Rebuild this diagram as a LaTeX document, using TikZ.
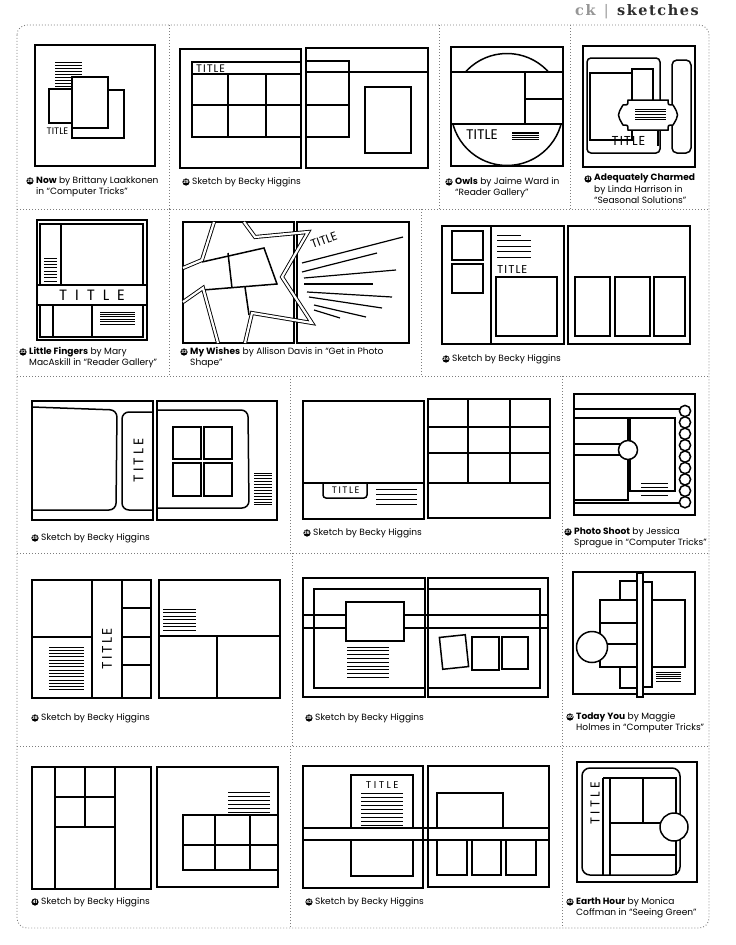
\documentclass[tikz,border=0pt]{standalone}
\usepackage{fontspec}
\newfontfamily\capfont{Poppins}
\newfontfamily\ttlfont{Poppins}
\newfontfamily\hdrfont{DejaVu Serif}
\usetikzlibrary{calc}
\definecolor{sepgray}{RGB}{125,125,125}
\definecolor{hdrgray}{RGB}{150,150,150}
\definecolor{hdrdark}{RGB}{45,45,45}
\newcommand\sptitle[2]{{\addfontfeatures{LetterSpace=#1}TITLE}\kern-#2}

\begin{document}
\begin{tikzpicture}[
    x=1bp, y=-1bp,
    pg/.style={draw, line width=1.7bp},
    sk/.style={draw, line width=1.5bp},
    jl/.style={line width=1bp},
    sep/.style={draw=sepgray, line width=0.9bp, dash pattern=on 0.9bp off 2.1bp},
    star/.style={line width=0.9bp, double, double distance=2.2bp, line join=miter},
    numdot/.style={circle, fill=black, inner sep=0pt, minimum size=7.2bp, text=white, font=\capfont\bfseries\fontsize{4.5}{4.5}\selectfont},
    caption/.style={anchor=north west, align=left, inner sep=0pt, font=\capfont\fontsize{9.1}{11.4}\selectfont},
    ttl/.style={inner sep=0pt, font=\ttlfont\fontsize{#1}{#1}\selectfont}
]
  \useasboundingbox (0,0) rectangle (736,945);

  \node[anchor=base east, inner sep=0pt, font=\hdrfont\bfseries\fontsize{14.5}{14.5}\selectfont\addfontfeatures{LetterSpace=11}] (hdr) at (699,15.5) {\textcolor{hdrgray}{ck \textmd{|}} \textcolor{hdrdark}{sketches}};

  % frame and separators
  \draw[sep, rounded corners=10] (17,25) rectangle (709,928);
  \foreach \y in {209,376,553,746} \draw[sep] (17,\y) -- (709,\y);
  \foreach \x in {169,439,570} \draw[sep] (\x,25) -- (\x,209);
  \foreach \x in {169,421} \draw[sep] (\x,209) -- (\x,376);
  \draw[sep] (290,376) -- (290,553);
  \draw[sep] (292,553) -- (292,746);
  \draw[sep] (290,746) -- (290,928);
  \draw[sep] (562,376) -- (562,928);

  % 28
  \draw[pg] (35,45) rectangle (155,166);
  \foreach \y in {62,65,...,86} \draw[jl] (55,\y) -- (82,\y);
  \draw[sk, fill=white] (72,90) rectangle (124,138);
  \draw[sk, fill=white] (49,89) rectangle (80,123);
  \draw[sk, fill=white] (72,77) rectangle (108,128);
  \node[ttl=9.5] (t28) at (57.5,131) {TITLE};
  \node[numdot] (n28) at (30,181) {28};
  \node[caption] (c28) at (36,176) {\textbf{Now} by Brittany Laakkonen\\in “Computer Tricks”};

  % 29
  \draw[pg] (180,49) rectangle (301,168);
  \draw[pg] (306,48) rectangle (428,168);
  \draw[sk] (192,62) rectangle (301,74);
  \node[ttl=11, anchor=west] (t29) at (196,68.5) {\sptitle{9}{1bp}};
  \draw[sk] (192,74) rectangle (301,137);
  \draw[sk] (228,74) -- (228,137);
  \draw[sk] (266,74) -- (266,137);
  \draw[sk] (192,105) -- (301,105);
  \draw[sk] (306,61) rectangle (349,137);
  \draw[sk] (306,72) -- (428,72);
  \draw[sk] (306,105) -- (349,105);
  \draw[sk] (365,87) rectangle (411,153);
  \node[numdot] (n29) at (186,182) {29};
  \node[caption] (c29) at (192,177) {Sketch by Becky Higgins};

  % 30
  \draw[pg] (451,47) rectangle (563,166);
  \draw[sk] (507,109.5) circle (56);
  \draw[sk, fill=white] (451,72) rectangle (563,124);
  \draw[sk] (525,72) -- (525,124);
  \draw[sk] (525,99) -- (563,99);
  \node[ttl=14] (t30) at (482,135) {TITLE};
  \foreach \y in {132,133.8,...,140} \draw[line width=0.9bp] (512,\y) -- (539,\y);
  \node[numdot] (n30) at (449,182) {30};
  \node[caption] (c30) at (455,177) {\textbf{Owls} by Jaime Ward in\\“Reader Gallery”};

  % 31
  \draw[pg] (583,46) rectangle (695,167);
  \draw[sk, rounded corners=4] (587,58) rectangle (660,153);
  \draw[sk, rounded corners=5] (672,60) rectangle (691,153);
  \draw[sk, fill=white] (590,73) rectangle (632,140);
  \draw[sk, fill=white] (632,69) rectangle (653,107);
  \draw[sk] (658,128) -- (658,146);
  \draw[sk, fill=white] (628,100) -- (668,100) .. controls (668,105) .. (673,105) .. controls (679,115) .. (673,125) .. controls (668,125) .. (668,130) -- (628,130) .. controls (628,125) .. (623,125) .. controls (617,115) .. (623,105) .. controls (628,105) .. (628,100) -- cycle;
  \foreach \y in {109,111.7,...,121} \draw[line width=0.9bp] (635,\y) -- (666,\y);
  \node[ttl=13] (t31) at (628,141) {\sptitle{8}{1bp}};
  \node[numdot] (n31) at (588,179) {31};
  \node[caption] (c31) at (594,174) {\textbf{Adequately Charmed}\\by Linda Harrison in\\“Seasonal Solutions”};

  % 32
  \draw[pg] (37,220) rectangle (147,340);
  \draw[sk] (40,224) rectangle (143,337);
  \draw[sk] (61,224) -- (61,285);
  \foreach \y in {258,261.3,...,282} \draw[jl] (44,\y) -- (57,\y);
  \draw[sk, fill=white] (37,285) rectangle (147,305);
  \node[ttl=15] (t32) at (88,295) {\sptitle{53}{8bp}};
  \draw[sk] (53,305) -- (53,337);
  \draw[sk] (92,305) -- (92,337);
  \foreach \y in {312,314.4,...,325} \draw[line width=0.9bp] (100,\y) -- (135,\y);
  \node[numdot] (n32) at (23,352) {32};
  \node[caption] (c32) at (29,347) {\textbf{Little Fingers} by Mary\\MacAskill in “Reader Gallery”};

  % 33
  \draw[pg] (183,222) rectangle (294,343);
  \draw[pg] (297,222) rectangle (409,343);
  \draw[sk] (202,262) -- (264,248) -- (277,284) -- (203,290);
  \draw[sk] (228,253) -- (232,288);
  \draw[sk] (245,287) -- (249,315);
  \draw[star] (214,222) -- (202,260) -- (183,268);
  \draw[star] (183,302) -- (203,288) -- (218,343);
  \draw[star] (245,343) -- (252,313) -- (312,323) -- (282,277) -- (308,232) -- (255,237) -- (244,222);
  \node[ttl=12, rotate=20] (t33) at (324,240) {TITLE};
  \foreach \a/\b/\c/\d in {302/263/403/237, 302/272/377/253, 304/278/396/270, 304/284/373/284, 307/292/392/297, 309/297/382/308, 314/305/366/317, 314/310/340/318}
    \draw[line width=1.2bp] (\a,\b) -- (\c,\d);
  \node[numdot] (n33) at (184,352) {33};
  \node[caption] (c33) at (190,347) {\textbf{My Wishes} by Allison Davis in “Get in Photo\\Shape”};

  % 34
  \draw[pg] (442,226) rectangle (564,344);
  \draw[pg] (568,226) rectangle (690,344);
  \draw[sk] (491,226) -- (491,344);
  \draw[sk] (452,231) rectangle (483,260);
  \draw[sk] (452,264) rectangle (483,293);
  \draw[jl] (497,235) -- (521,235);
  \foreach \y in {240.5,246,...,258} \draw[jl] (497,\y) -- (531,\y);
  \node[ttl=11.5, anchor=west] (t34) at (497,269) {\sptitle{9}{1bp}};
  \draw[sk] (496,277) rectangle (557,336);
  \draw[sk] (575,277) rectangle (610,336);
  \draw[sk] (615,277) rectangle (650,336);
  \draw[sk] (654,277) rectangle (685,336);
  \node[numdot] (n34) at (446,359) {34};
  \node[caption] (c34) at (452,354) {Sketch by Becky Higgins};

  % 35
  \draw[pg] (32,401) rectangle (153,520);
  \draw[pg] (157,401) rectangle (277,520);
  \draw[sk, rounded corners=7] (32,407) -- (117,410) -- (116,510) -- (32,510);
  \draw[sk, rounded corners=7] (153,412) -- (122,412) -- (122,510) -- (153,510);
  \node[ttl=14, rotate=90] (t35) at (138.5,462) {\sptitle{21}{3bp}};
  \draw[sk, rounded corners=7] (157,410) -- (248,410) -- (249,508) -- (157,508);
  \draw[sk] (173,427) rectangle (201,459);
  \draw[sk] (204,427) rectangle (232,459);
  \draw[sk] (173,463) rectangle (201,496);
  \draw[sk] (204,463) rectangle (232,496);
  \foreach \y in {473,475.9,...,506} \draw[line width=0.9bp] (254,\y) -- (272,\y);
  \node[numdot] (n35) at (35,538) {35};
  \node[caption] (c35) at (41,533) {Sketch by Becky Higgins};

  % 36
  \draw[pg] (303,401) rectangle (424,519);
  \draw[pg] (428,399) rectangle (550,518);
  \draw[sk] (303,483) -- (424,483);
  \draw[sk, rounded corners=3] (323,483) -- (323,498) -- (367,498) -- (367,483);
  \node[ttl=9.5] (t36) at (345,490.5) {\sptitle{16}{1.5bp}};
  \foreach \y in {489,494.3,...,505} \draw[jl] (376,\y) -- (417,\y);
  \draw[sk] (428,427) -- (550,427);
  \draw[sk] (428,453) -- (550,453);
  \draw[sk] (428,483) -- (550,483);
  \draw[sk] (468,399) -- (468,483);
  \draw[sk] (510,399) -- (510,483);
  \node[numdot] (n36) at (307,533) {36};
  \node[caption] (c36) at (313,528) {Sketch by Becky Higgins};

  % 37
  \draw[pg] (574,394) rectangle (695,515);
  \draw[sk] (574,409) -- (680,409);
  \draw[sk] (574,503) -- (680,503);
  \draw[sk] (574,418) -- (628,418) -- (628,500) -- (574,500);
  \draw[sk] (574,444) -- (620,444);
  \draw[sk] (574,455) -- (620,455);
  \draw[sk] (630,418) rectangle (675,491);
  \foreach \y in {483,487,...,497} \draw[jl] (641,\y) -- (668,\y);
  \draw[sk, fill=white] (628,450) circle (9.5);
  \foreach \i in {0,...,8} \draw[sk, fill=white] (685,411+11.4*\i) circle (5.6);
  \node[numdot] (n37) at (568,532) {37};
  \node[caption] (c37) at (574,527) {\textbf{Photo Shoot} by Jessica\\Sprague in “Computer Tricks”};

  % 38
  \draw[pg] (32,580) rectangle (151,698);
  \draw[pg] (159,580) rectangle (280,698);
  \draw[sk] (92,580) -- (92,698);
  \draw[sk] (122,580) -- (122,698);
  \draw[sk] (32,637) -- (92,637);
  \draw[sk] (122,608) -- (151,608);
  \draw[sk] (122,637) -- (151,637);
  \draw[sk] (122,665) -- (151,665);
  \node[ttl=14, rotate=90] (t38) at (107,650) {\sptitle{18}{2.5bp}};
  \foreach \y in {647,650.3,...,691} \draw[jl] (49,\y) -- (84,\y);
  \draw[sk] (159,636) -- (280,636);
  \draw[sk] (217,636) -- (217,698);
  \foreach \y in {609,612.5,...,631} \draw[jl] (163,\y) -- (196,\y);
  \node[numdot] (n38) at (35,718) {38};
  \node[caption] (c38) at (41,713) {Sketch by Becky Higgins};

  % 39
  \draw[pg] (303,578) rectangle (425,697);
  \draw[pg] (428,578) rectangle (548,697);
  \draw[sk] (425,589) -- (314,589) -- (314,688) -- (425,688);
  \draw[sk] (428,589) -- (540,589) -- (540,688) -- (428,688);
  \draw[sk] (303,615) -- (548,615);
  \draw[sk] (303,628) -- (548,628);
  \draw[sk, fill=white] (346,602) rectangle (404,641);
  \foreach \y in {647,650.8,...,678} \draw[jl] (347,\y) -- (389,\y);
  \draw[sk, rotate around={6:(454,652)}] (441,636) rectangle (467,668);
  \draw[sk] (472,637) rectangle (499,670);
  \draw[sk] (502,637) rectangle (528,669);
  \node[numdot] (n39) at (309,718) {39};
  \node[caption] (c39) at (315,713) {Sketch by Becky Higgins};

  % 40
  \draw[pg] (573,572) rectangle (695,694);
  \draw[sk] (600,600) rectangle (685,667);
  \draw[sk] (600,623) -- (637,623);
  \draw[sk] (600,644) -- (637,644);
  \draw[sk] (620,581) rectangle (637,600);
  \draw[sk] (620,667) rectangle (637,688);
  \draw[sk, fill=white] (643,582) rectangle (652,687);
  \draw[sk, fill=white] (637,573) rectangle (643,697);
  \draw[sk, fill=white] (592,647) circle (15.5);
  \foreach \y in {672,674.3,...,682} \draw[line width=0.9bp] (656,\y) -- (681,\y);
  \node[numdot] (n40) at (570,717) {40};
  \node[caption] (c40) at (576,712) {\textbf{Today You} by Maggie\\Holmes in “Computer Tricks”};

  % 41
  \draw[pg] (32,767) rectangle (151,889);
  \draw[pg] (157,767) rectangle (278,887);
  \draw[sk] (55,767) -- (55,889);
  \draw[sk] (115,767) -- (115,889);
  \draw[sk] (55,797) -- (115,797);
  \draw[sk] (55,827) -- (115,827);
  \draw[sk] (85,767) -- (85,827);
  \foreach \y in {792,796,...,812} \draw[jl] (228,\y) -- (270,\y);
  \draw[sk] (183,815) rectangle (278,870);
  \draw[sk] (215,815) -- (215,870);
  \draw[sk] (250,815) -- (250,870);
  \draw[sk] (183,845) -- (278,845);
  \node[numdot] (n41) at (35,902) {41};
  \node[caption] (c41) at (41,897) {Sketch by Becky Higgins};

  % 42
  \draw[pg] (303,766) rectangle (423,888);
  \draw[pg] (428,766) rectangle (549,887);
  \draw[sk] (351,775) rectangle (413,828);
  \node[ttl=10] (t42) at (381,785) {\sptitle{25}{2.5bp}};
  \foreach \y in {793,797,...,825} \draw[jl] (361,\y) -- (403,\y);
  \draw[sk] (303,828) -- (549,828);
  \draw[sk] (303,840) -- (549,840);
  \draw[sk] (351,840) rectangle (413,876);
  \draw[sk] (437,793) rectangle (503,828);
  \draw[sk] (437,840) rectangle (467,875);
  \draw[sk] (472,840) rectangle (501,875);
  \draw[sk] (506,840) rectangle (536,875);
  \node[numdot] (n42) at (309,902) {42};
  \node[caption] (c42) at (315,897) {Sketch by Becky Higgins};

  % 43
  \draw[pg] (577,762) rectangle (697,882);
  \draw[sk, rounded corners=8] (582,768) rectangle (680,875);
  \draw[sk] (603,778) -- (603,875);
  \draw[sk] (610,778) -- (610,875);
  \draw[sk] (603,778) -- (676,778) -- (676,875);
  \draw[sk] (643,778) -- (643,823);
  \draw[sk] (610,823) -- (667,823);
  \draw[sk] (610,855) -- (676,855);
  \draw[sk, fill=white] (674,827) circle (14);
  \node[ttl=13, rotate=90] (t43) at (595,805) {\sptitle{27}{3.5bp}};
  \node[numdot] (n43) at (570,902) {43};
  \node[caption] (c43) at (576,897) {\textbf{Earth Hour} by Monica\\Coffman in “Seeing Green”};
\end{tikzpicture}
\end{document}
